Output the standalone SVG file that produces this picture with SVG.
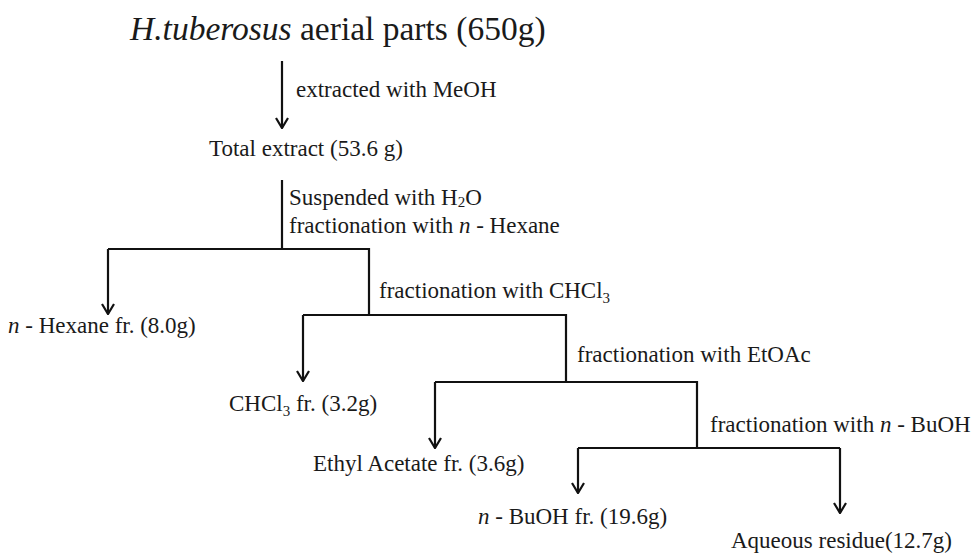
<svg xmlns="http://www.w3.org/2000/svg" width="972" height="555" viewBox="0 0 972 555">
<style>
text{font-family:"Liberation Serif","Times New Roman",serif;fill:#1a1a1a;font-size:23px}
.title{font-size:33.5px}
.it{font-style:italic}
.ln{fill:none;stroke:#111;stroke-width:2.2}
.ar{fill:none;stroke:#111;stroke-width:2.2;marker-end:url(#ah)}
</style>
<defs>
<marker id="ah" markerUnits="userSpaceOnUse" viewBox="0 0 12 14" refX="11" refY="7" markerWidth="12" markerHeight="14" orient="auto">
<path d="M1,1 L11,7 L1,13" fill="none" stroke="#111" stroke-width="2.2"/>
</marker>
</defs>
<rect width="972" height="555" fill="#fff"/>
<g id="connectors">
<path class="ar" d="M282,61 V128"/>
<path class="ln" d="M282,180 V249"/>
<path class="ln" d="M108,249 H369 V315"/>
<path class="ar" d="M108,249 V314"/>
<path class="ln" d="M303,315 H566 V382"/>
<path class="ar" d="M303,315 V381"/>
<path class="ln" d="M435,382 H697 V448"/>
<path class="ar" d="M435,382 V448"/>
<path class="ln" d="M578,448 H840"/>
<path class="ar" d="M578,448 V493"/>
<path class="ar" d="M840,448 V513"/>
<text x="296" y="97">extracted with MeOH</text>
<text x="289" y="205">Suspended with H<tspan font-size="15" dy="2">2</tspan><tspan dy="-2">O</tspan></text>
<text x="289" y="233">fractionation with <tspan class="it">n</tspan> - Hexane</text>
<text x="379" y="298">fractionation with CHCl<tspan font-size="15" dy="5">3</tspan></text>
<text x="577" y="362">fractionation with EtOAc</text>
<text x="710" y="432">fractionation with <tspan class="it">n</tspan> - BuOH</text>
</g>
<g id="title"><text class="title" x="130" y="40"><tspan class="it">H.tuberosus</tspan> aerial parts (650g)</text></g>
<g id="total"><text x="209" y="156">Total extract (53.6 g)</text></g>
<g id="hexane"><text x="8" y="333"><tspan class="it">n</tspan> - Hexane fr. (8.0g)</text></g>
<g id="chcl3"><text x="229" y="411">CHCl<tspan font-size="15" dy="5">3</tspan><tspan dy="-5"> fr. (3.2g)</tspan></text></g>
<g id="etoac"><text x="313" y="471">Ethyl Acetate fr. (3.6g)</text></g>
<g id="buoh"><text x="478" y="524"><tspan class="it">n</tspan> - BuOH fr. (19.6g)</text></g>
<g id="aqueous"><text x="731" y="548">Aqueous residue(12.7g)</text></g>
</svg>
